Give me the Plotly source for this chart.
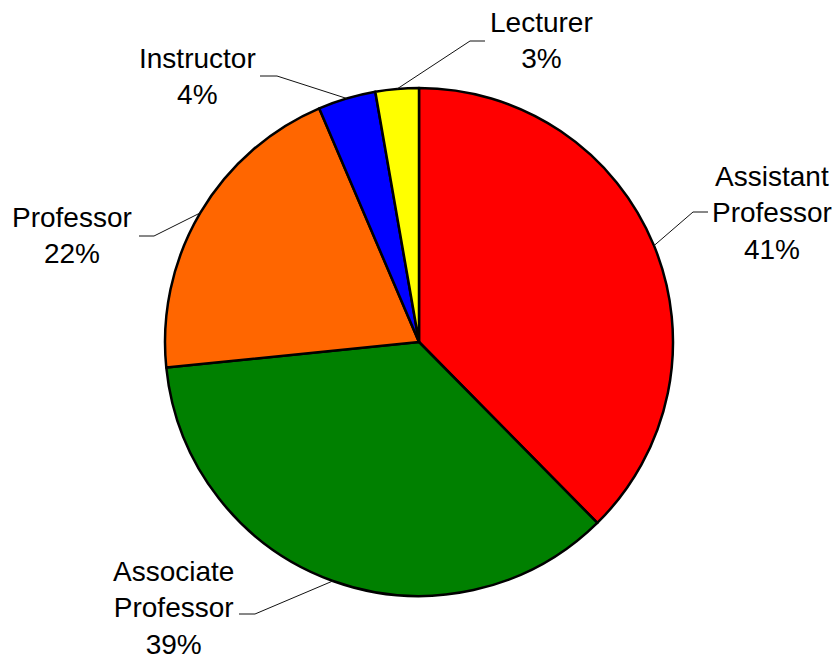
import math
import plotly.graph_objects as go

# ---- data ----
categories = ["Assistant<br>Professor", "Associate<br>Professor", "Professor", "Instructor", "Lecturer"]
values = [41, 39, 22, 4, 3]
colors = ["#FF0000", "#008000", "#FF6600", "#0000FF", "#FFFF00"]

# ---- layout constants (pixels) ----
W, H = 840, 662
CX, CY, R = 419, 342, 254
# label block centres and elbow points (pixels)
label_pos = [(772, 213), (173, 608), (72, 236), (197, 76), (541, 40)]
elbow_pos = [(693, 212), (255, 614), (154, 236), (277, 76), (470, 41)]
line_end = [(708, 212), (239, 614), (139, 236), (260, 76), (485, 41)]

def px(x):
    return x / W

def py(y):
    return 1 - y / H

fig = go.Figure()
fig.add_trace(go.Pie(
    labels=categories,
    values=values,
    sort=False,
    direction="clockwise",
    rotation=0,
    marker=dict(colors=colors, line=dict(color="#000000", width=2.5)),
    textinfo="none",
    hoverinfo="skip",
    showlegend=False,
    domain=dict(x=[px(CX - R), px(CX + R)], y=[py(CY + R), py(CY - R)]),
))

total = sum(values)
cum = 0
shapes = []
annotations = []
for i, v in enumerate(values):
    mid = (cum + v / 2) / total * 2 * math.pi
    cum += v
    ex = CX + R * math.sin(mid)
    ey = CY - R * math.cos(mid)
    path = "M {} {} L {} {} L {} {}".format(
        px(ex), py(ey), px(elbow_pos[i][0]), py(elbow_pos[i][1]),
        px(line_end[i][0]), py(line_end[i][1]))
    shapes.append(dict(type="path", xref="paper", yref="paper", path=path,
                       line=dict(color="#111111", width=1)))
    annotations.append(dict(
        x=px(label_pos[i][0]), y=py(label_pos[i][1]), xref="paper", yref="paper",
        xanchor="center", yanchor="middle", showarrow=False, align="center",
        borderpad=0,
        text=f"{categories[i]}<br>{v}%",
        font=dict(family="Liberation Sans, Arial, sans-serif", size=28, color="#000000"),
    ))

fig.update_layout(
    width=W, height=H,
    margin=dict(l=0, r=0, t=0, b=0),
    paper_bgcolor="#FFFFFF",
    plot_bgcolor="#FFFFFF",
    shapes=shapes,
    annotations=annotations,
)

fig.write_html(
    "out.html",
    config={"displayModeBar": False},
    post_script="document.body.style.margin='0';document.body.style.overflow='hidden';",
)
